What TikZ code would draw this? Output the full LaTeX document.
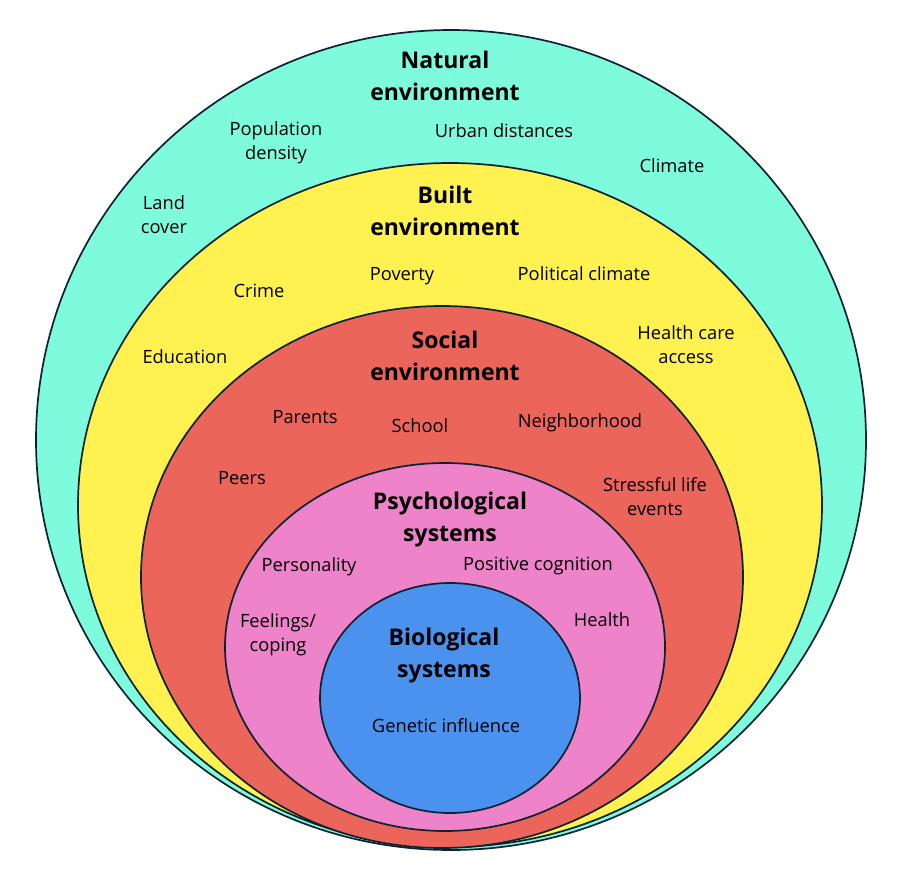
\documentclass[tikz,border=0pt]{standalone}
\usepackage{fontspec}
\setmainfont{Open Sans}
\definecolor{edge}{HTML}{0E2232}
\definecolor{natc}{HTML}{7EFBDC}
\definecolor{builtc}{HTML}{FFF150}
\definecolor{socc}{HTML}{EB655A}
\definecolor{psyc}{HTML}{EE83C9}
\definecolor{bioc}{HTML}{4A92EE}
\begin{document}
\begin{tikzpicture}[x=1pt,y=-1pt,
  ring/.style={draw=edge,line width=1.7pt},
  lbl/.style={font=\fontsize{18.3}{24}\selectfont,align=center,inner sep=0pt,text=black},
  ttl/.style={font=\fontsize{23}{32}\selectfont\bfseries,align=center,inner sep=0pt,text=black}]
\useasboundingbox (0,0) rectangle (902,884);
\filldraw[ring,fill=natc] (451,440) ellipse [x radius=415,y radius=410];
\filldraw[ring,fill=builtc] (450,505) ellipse [x radius=372,y radius=342];
\filldraw[ring,fill=socc] (442,577) ellipse [x radius=301,y radius=271];
\filldraw[ring,fill=psyc] (445,647) ellipse [x radius=220,y radius=184];
\filldraw[ring,fill=bioc] (450,698) ellipse [x radius=130,y radius=115];
% titles
\node[ttl] (tnat) at (445,76) {Natural\\environment};
\node[ttl] (tbuilt) at (445,211) {Built\\environment};
\node[ttl] (tsoc) at (445,356) {Social\\environment};
\node[ttl] (tpsy) at (450,520) {Psychological\\systems};
\node[ttl] (tbio) at (444,656) {Biological\\systems};
% natural
\node[lbl] (popd) at (276,143) {Population\\density};
\node[lbl] (urb) at (504,131) {Urban distances};
\node[lbl] (clim) at (672,166) {Climate};
\node[lbl] (land) at (164,215) {Land\\cover};
% built
\node[lbl] (crime) at (259,291) {Crime};
\node[lbl] (pov) at (402,276) {Poverty};
\node[lbl] (pol) at (584,274) {Political climate};
\node[lbl] (edu) at (185,357) {Education};
\node[lbl] (hca) at (686,345) {Health care\\access};
% social
\node[lbl] (par) at (305,417) {Parents};
\node[lbl] (sch) at (420,426) {School};
\node[lbl] (nbh) at (580,423) {Neighborhood};
\node[lbl] (peer) at (242,478) {Peers};
\node[lbl] (stress) at (655,497) {Stressful life\\events};
% psychological
\node[lbl] (pers) at (309,567) {Personality};
\node[lbl] (poscog) at (538,566) {Positive cognition};
\node[lbl] (feel) at (278,635) {Feelings/\\coping};
\node[lbl] (hlth) at (602,620) {Health};
% biological
\node[lbl] (gen) at (446,726) {Genetic influence};
\end{tikzpicture}
\end{document}
